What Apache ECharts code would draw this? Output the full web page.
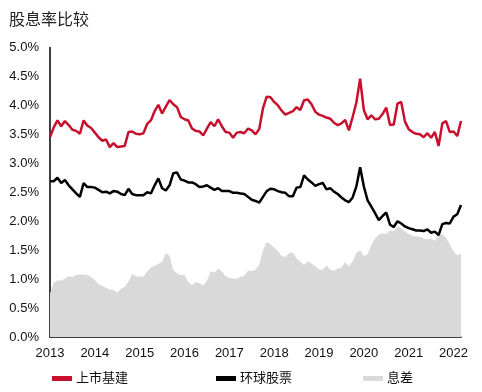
<!DOCTYPE html>
<html>
<head>
<meta charset="utf-8">
<script src="https://cdn.jsdelivr.net/npm/echarts@6/dist/echarts.min.js"></script>
<style>
html,body{margin:0;padding:0;background:#fff;}
#c{width:482px;height:392px;}
</style>
</head>
<body>
<div id="c"></div>
<script>
const yearLabels = ['2013','2014','2015','2016','2017','2018','2019','2020','2021','2022'];
const months = [];
for (let y = 2013; y <= 2022; y++) {
  for (let m = 1; m <= 12; m++) {
    if (y === 2022 && m > 3) break;
    months.push(y + '-' + (m < 10 ? '0' + m : m));
  }
}
const infraYield = [3.45,3.62,3.74,3.64,3.73,3.66,3.58,3.56,3.51,3.74,3.65,3.61,3.53,3.45,3.39,3.41,3.28,3.35,3.28,3.29,3.30,3.54,3.55,3.51,3.50,3.52,3.68,3.74,3.90,4.01,3.86,3.98,4.09,4.02,3.97,3.80,3.76,3.74,3.60,3.56,3.55,3.48,3.60,3.71,3.64,3.76,3.64,3.54,3.53,3.44,3.53,3.54,3.52,3.60,3.57,3.50,3.59,3.95,4.15,4.14,4.06,4.00,3.91,3.84,3.87,3.90,3.97,3.92,4.09,4.10,4.02,3.89,3.84,3.82,3.79,3.77,3.70,3.66,3.69,3.75,3.57,3.80,4.05,4.46,3.92,3.76,3.83,3.76,3.77,3.85,3.96,3.66,3.67,4.03,4.06,3.72,3.59,3.54,3.51,3.50,3.45,3.52,3.44,3.54,3.30,3.69,3.73,3.54,3.55,3.47,3.73];
const globalYield = [2.69,2.69,2.75,2.66,2.71,2.62,2.55,2.48,2.42,2.66,2.59,2.59,2.58,2.54,2.50,2.51,2.48,2.52,2.51,2.47,2.45,2.56,2.47,2.45,2.45,2.45,2.50,2.48,2.62,2.74,2.57,2.53,2.62,2.83,2.84,2.72,2.70,2.67,2.67,2.64,2.59,2.60,2.62,2.58,2.54,2.57,2.52,2.52,2.52,2.49,2.49,2.48,2.47,2.42,2.37,2.35,2.32,2.42,2.52,2.56,2.55,2.52,2.50,2.49,2.43,2.43,2.58,2.59,2.79,2.72,2.67,2.61,2.64,2.66,2.55,2.57,2.51,2.47,2.41,2.36,2.33,2.41,2.60,2.93,2.60,2.36,2.25,2.14,2.02,2.09,2.15,1.94,1.90,2.00,1.96,1.91,1.88,1.86,1.84,1.84,1.83,1.86,1.80,1.82,1.76,1.95,1.97,1.96,2.08,2.12,2.28];
const spread = [0.75,0.94,0.98,0.97,1.01,1.05,1.03,1.07,1.08,1.08,1.07,1.04,0.98,0.91,0.88,0.85,0.82,0.81,0.77,0.83,0.87,0.96,1.09,1.05,1.04,1.04,1.13,1.20,1.23,1.26,1.30,1.45,1.40,1.16,1.10,1.07,1.07,0.95,0.90,0.95,0.93,0.89,0.97,1.13,1.12,1.18,1.13,1.05,1.02,1.01,1.01,1.04,1.06,1.15,1.14,1.16,1.25,1.50,1.64,1.60,1.54,1.48,1.40,1.38,1.45,1.46,1.36,1.30,1.25,1.31,1.27,1.22,1.17,1.16,1.24,1.16,1.15,1.18,1.20,1.29,1.22,1.31,1.45,1.50,1.40,1.43,1.59,1.70,1.77,1.79,1.78,1.84,1.82,1.91,1.88,1.82,1.78,1.75,1.74,1.73,1.70,1.69,1.70,1.66,1.78,1.77,1.72,1.60,1.48,1.41,1.44];
const yTicks = ['0.0%','0.5%','1.0%','1.5%','2.0%','2.5%','3.0%','3.5%','4.0%','4.5%','5.0%'];

const FONT = '"Liberation Sans", Arial, "Noto Sans CJK SC", sans-serif';
const chart = echarts.init(document.getElementById('c'), null, {renderer: 'canvas'});
const legendBase = {
  orient: 'horizontal', top: 367, itemWidth: 20, itemHeight: 5, itemGap: 10,
  icon: 'rect', textStyle: {fontSize: 13, color: '#111', fontFamily: FONT, padding: [0,0,0,-1]}
};
chart.setOption({
  animation: false,
  backgroundColor: '#fff',
  title: {
    text: '股息率比较', left: 4, top: 8,
    textStyle: {fontSize: 16, fontWeight: 'normal', color: '#222', fontFamily: FONT}
  },
  legend: [
    Object.assign({}, legendBase, {left: 47, data: ['上市基建']}),
    Object.assign({}, legendBase, {left: 211, data: ['环球股票']}),
    Object.assign({}, legendBase, {left: 358, data: ['息差']})
  ],
  grid: {left: 50, right: 21, top: 47.5, bottom: 55, containLabel: false},
  xAxis: {
    type: 'category', data: months, boundaryGap: false,
    axisLine: {show: true, lineStyle: {color: '#000', width: 1.5}},
    axisTick: {show: false},
    axisLabel: {
      interval: function (idx) { return idx % 12 === 0; },
      formatter: function (v) { return yearLabels[yearLabels.indexOf(v.slice(0,4))]; },
      fontSize: 13, color: '#111', fontFamily: FONT, margin: 10
    },
    splitLine: {show: false}
  },
  yAxis: {
    type: 'value', min: 0, max: 5, interval: 0.5,
    axisLine: {show: true, lineStyle: {color: '#000', width: 1.5}},
    axisTick: {show: false},
    splitLine: {show: false},
    axisLabel: {
      formatter: function (v) { return yTicks[Math.round(v * 2)]; },
      fontSize: 13, color: '#111', fontFamily: FONT, margin: 11
    }
  },
  series: [
    {
      name: '息差', type: 'line', data: spread, showSymbol: false, symbol: 'none',
      lineStyle: {width: 0}, itemStyle: {color: '#d9d9d9'},
      areaStyle: {color: '#d9d9d9', opacity: 1}, z: 1
    },
    {
      name: '上市基建', type: 'line', data: infraYield, showSymbol: false, symbol: 'none',
      lineStyle: {width: 2.5, color: '#c8102e'}, itemStyle: {color: '#c8102e'}, z: 3
    },
    {
      name: '环球股票', type: 'line', data: globalYield, showSymbol: false, symbol: 'none',
      lineStyle: {width: 2.5, color: '#000'}, itemStyle: {color: '#000'}, z: 3
    }
  ]
});
</script>
</body>
</html>
